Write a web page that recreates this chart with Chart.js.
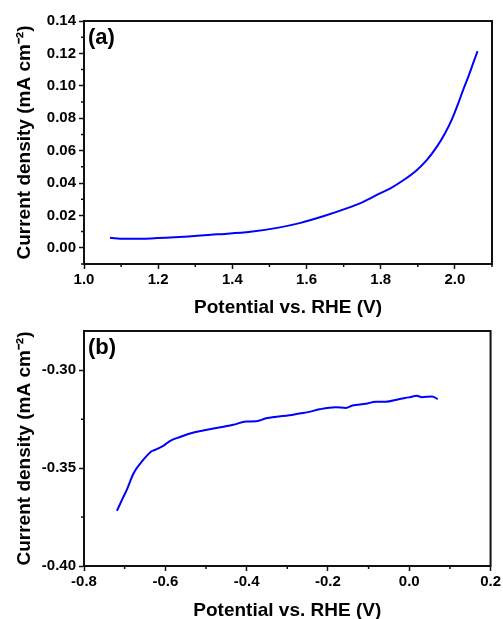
<!DOCTYPE html>
<html>
<head>
<meta charset="utf-8">
<script src="https://cdn.jsdelivr.net/npm/chart.js@4"></script>
<style>
  html, body { margin: 0; padding: 0; background: #fff; overflow: hidden; }
  #grafA { position: absolute; left: 0; top: 0; }
  #grafB { position: absolute; left: 0; top: 319px; }
</style>
</head>
<body>
<canvas id="grafA" width="503" height="319"></canvas>
<canvas id="grafB" width="503" height="303"></canvas>
<script>
// (a) curva anodica
const potencialA = [1.070, 1.108, 1.180, 1.270, 1.359, 1.449, 1.521, 1.584, 1.647, 1.708, 1.753, 1.798, 1.825, 1.861, 1.897, 1.924, 1.951, 1.973, 1.991, 2.009, 2.022, 2.036, 2.049, 2.061];
const correnteA = [0.0062, 0.0056, 0.0058, 0.0068, 0.0083, 0.0099, 0.0123, 0.0154, 0.0196, 0.0243, 0.0284, 0.0336, 0.0366, 0.0417, 0.0479, 0.0541, 0.0623, 0.0706, 0.0788, 0.0891, 0.0973, 0.1055, 0.1138, 0.1214];

// (b) curva catodica
const potencialB = [-0.719, -0.706, -0.694, -0.678, -0.657, -0.633, -0.629, -0.604, -0.588, -0.564, -0.539, -0.507, -0.474, -0.433, -0.401, -0.376, -0.352, -0.327, -0.295, -0.270, -0.246, -0.221, -0.181, -0.156, -0.140, -0.107, -0.083, -0.058, -0.026, -0.001, 0.019, 0.031, 0.056, 0.070];
const correnteB = [-0.3718, -0.3660, -0.3607, -0.3526, -0.3465, -0.3413, -0.3410, -0.3385, -0.3361, -0.3341, -0.3323, -0.3308, -0.3295, -0.3279, -0.3262, -0.3261, -0.3246, -0.3238, -0.3230, -0.3221, -0.3213, -0.3200, -0.3189, -0.3193, -0.3180, -0.3172, -0.3161, -0.3161, -0.3148, -0.3139, -0.3131, -0.3138, -0.3134, -0.3148];

const tituloX = 'Potential vs. RHE (V)';
const tituloY = 'Current density (mA cm\u207B\u00B2)';

Chart.defaults.font.family = "'Liberation Sans', Arial, sans-serif";
Chart.defaults.font.weight = 'bold';
Chart.defaults.color = '#000';

// moldura, ticks menores e rotulo (a)/(b)
const moldura = {
    id: 'moldura',
    afterDraw(chart, args, opts) {
        const { ctx, chartArea: a, scales } = chart;
        ctx.save();
        ctx.strokeStyle = '#111';
        ctx.lineWidth = 2;
        ctx.strokeRect(a.left, a.top, a.right - a.left, a.bottom - a.top);

        ctx.lineWidth = 1.5;
        ctx.beginPath();
        const sx = scales.x;
        for (let i = Math.ceil(sx.min / opts.menorX - 1e-6); i <= Math.floor(sx.max / opts.menorX + 1e-6); i++) {
            if (i % 2 === 0) continue;
            const px = sx.getPixelForValue(i * opts.menorX);
            ctx.moveTo(px, a.bottom);
            ctx.lineTo(px, a.bottom + 3);
        }
        const sy = scales.y;
        for (let i = Math.ceil(sy.min / opts.menorY - 1e-6); i <= Math.floor(sy.max / opts.menorY + 1e-6); i++) {
            if (i % 2 === 0) continue;
            const py = sy.getPixelForValue(i * opts.menorY);
            ctx.moveTo(a.left, py);
            ctx.lineTo(a.left - 3, py);
        }
        ctx.stroke();

        ctx.fillStyle = '#000';
        ctx.font = "bold 22px 'Liberation Sans', Arial, sans-serif";
        ctx.textBaseline = 'middle';
        ctx.fillText(opts.rotulo, a.left + 4, a.top + opts.rotuloY);
        ctx.restore();
    }
};

function criarGrafico(id, xs, ys, cfg) {
    const ctx = document.getElementById(id);
    return new Chart(ctx, {
        type: 'line',
        data: {
            datasets: [{
                data: xs.map((x, i) => ({ x: x, y: ys[i] })),
                borderColor: '#0000ff',
                borderWidth: 2,
                pointRadius: 0,
                fill: false,
                cubicInterpolationMode: 'monotone'
            }]
        },
        options: {
            responsive: false,
            animation: false,
            layout: { padding: { left: 0, right: 11, top: cfg.topo, bottom: 0 } },
            plugins: {
                legend: { display: false },
                tooltip: { enabled: false },
                moldura: { menorX: cfg.menorX, menorY: cfg.menorY, rotulo: cfg.rotulo, rotuloY: cfg.rotuloY }
            },
            scales: {
                x: {
                    type: 'linear',
                    min: cfg.xMin, max: cfg.xMax,
                    afterFit: (s) => { s.height = cfg.alturaX; },
                    border: { display: true, color: '#111', width: 2 },
                    grid: { drawOnChartArea: false, tickLength: 5, tickColor: '#111', tickWidth: 1.5 },
                    ticks: {
                        stepSize: cfg.passoX, includeBounds: false, maxRotation: 0, padding: 2,
                        font: { size: 15, weight: 'bold' },
                        callback: (v) => v.toFixed(1)
                    },
                    title: { display: true, text: tituloX, font: { size: 19, weight: 'bold' }, padding: { top: 0, bottom: 0 } }
                },
                y: {
                    min: cfg.yMin, max: cfg.yMax,
                    afterFit: (s) => { s.width = 84; },
                    border: { display: true, color: '#111', width: 2 },
                    grid: { drawOnChartArea: false, tickLength: 5, tickColor: '#111', tickWidth: 1.5 },
                    ticks: {
                        stepSize: cfg.passoY, includeBounds: false, padding: 3,
                        font: { size: 15, weight: 'bold' },
                        callback: (v) => v.toFixed(2)
                    },
                    title: { display: true, text: tituloY, font: { size: 19, weight: 'bold' }, padding: { top: 13, bottom: 0 } }
                }
            }
        },
        plugins: [moldura]
    });
}

criarGrafico('grafA', potencialA, correnteA, {
    topo: 21, alturaX: 55,
    xMin: 1.0, xMax: 2.1, passoX: 0.2, menorX: 0.1,
    yMin: -0.01, yMax: 0.14, passoY: 0.02, menorY: 0.01,
    rotulo: '(a)', rotuloY: 17
});

criarGrafico('grafB', potencialB, correnteB, {
    topo: 4, alturaX: 56,
    xMin: -0.8, xMax: 0.2, passoX: 0.2, menorX: 0.1,
    yMin: -0.40, yMax: -0.28, passoY: 0.05, menorY: 0.025,
    rotulo: '(b)', rotuloY: 17
});
</script>
</body>
</html>
